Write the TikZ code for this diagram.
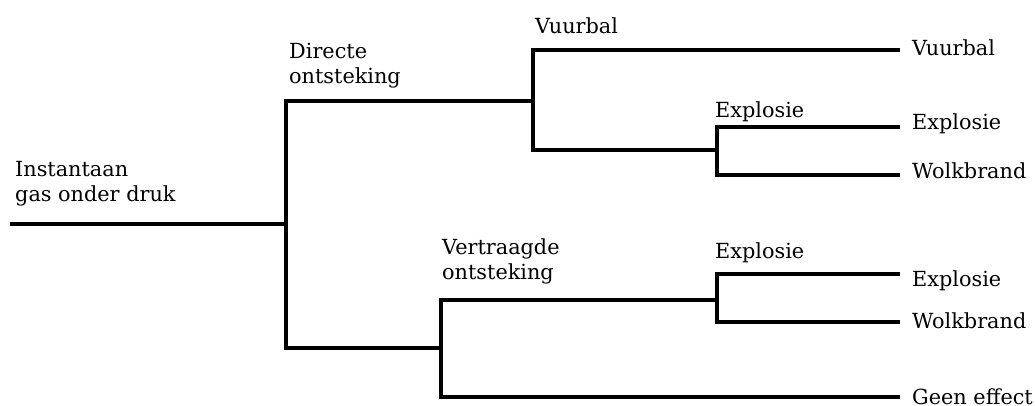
\documentclass[tikz,border=0pt]{standalone}
\usepackage{fontspec}
\setmainfont{DejaVu Serif}
\newcommand{\twol}[2]{\begin{tabular}[t]{@{}l@{}}#1\\#2\end{tabular}}
\begin{document}
\begin{tikzpicture}[x=1pt,y=-1pt,
  lbl/.style={anchor=base west,inner sep=0pt,font=\fontsize{20.8}{25}\selectfont},
  br/.style={line width=3.2pt,line join=miter}]
\useasboundingbox (0,0) rectangle (1035,405);
% junctions and ends
\coordinate (r) at (10,224);
\coordinate (a) at (286,224);
\coordinate (a1) at (286,101);
\coordinate (a2) at (286,348);
\coordinate (b) at (533,101);
\coordinate (b1) at (533,50);
\coordinate (b2) at (533,150);
\coordinate (e1) at (900,50);
\coordinate (c) at (717,150);
\coordinate (c1) at (717,127);
\coordinate (c2) at (717,175);
\coordinate (e2) at (900,127);
\coordinate (e3) at (900,175);
\coordinate (d) at (441,348);
\coordinate (d1) at (441,300);
\coordinate (d2) at (441,397);
\coordinate (e6) at (900,397);
\coordinate (f) at (717,300);
\coordinate (f1) at (717,274);
\coordinate (f2) at (717,322);
\coordinate (e4) at (900,274);
\coordinate (e5) at (900,322);
% branches
\draw[br] (r) -- (a);
\draw[br] (b) -- (a1) -- (a2) -- (d);
\draw[br] (c) -- (b2) -- (b1) -- (e1);
\draw[br] (e2) -- (c1) -- (c2) -- (e3);
\draw[br] (f) -- (d1) -- (d2) -- (e6);
\draw[br] (e4) -- (f1) -- (f2) -- (e5);
% labels
\node[lbl] (tr) at (15,176) {\twol{Instantaan}{gas onder druk}};
\node[lbl] (ta) at (289,58) {\twol{Directe}{ontsteking}};
\node[lbl] (tv) at (442,254) {\twol{Vertraagde}{ontsteking}};
\node[lbl] (tb) at (535,33) {Vuurbal};
\node[lbl] (tc) at (715,117) {Explosie};
\node[lbl] (tf) at (715,258) {Explosie};
\node[lbl] (t1) at (912,55) {Vuurbal};
\node[lbl] (t2) at (912,129) {Explosie};
\node[lbl] (t3) at (912,178) {Wolkbrand};
\node[lbl] (t4) at (912,286) {Explosie};
\node[lbl] (t5) at (912,328) {Wolkbrand};
\node[lbl] (t6) at (912,404) {Geen effect};
\end{tikzpicture}
\end{document}
